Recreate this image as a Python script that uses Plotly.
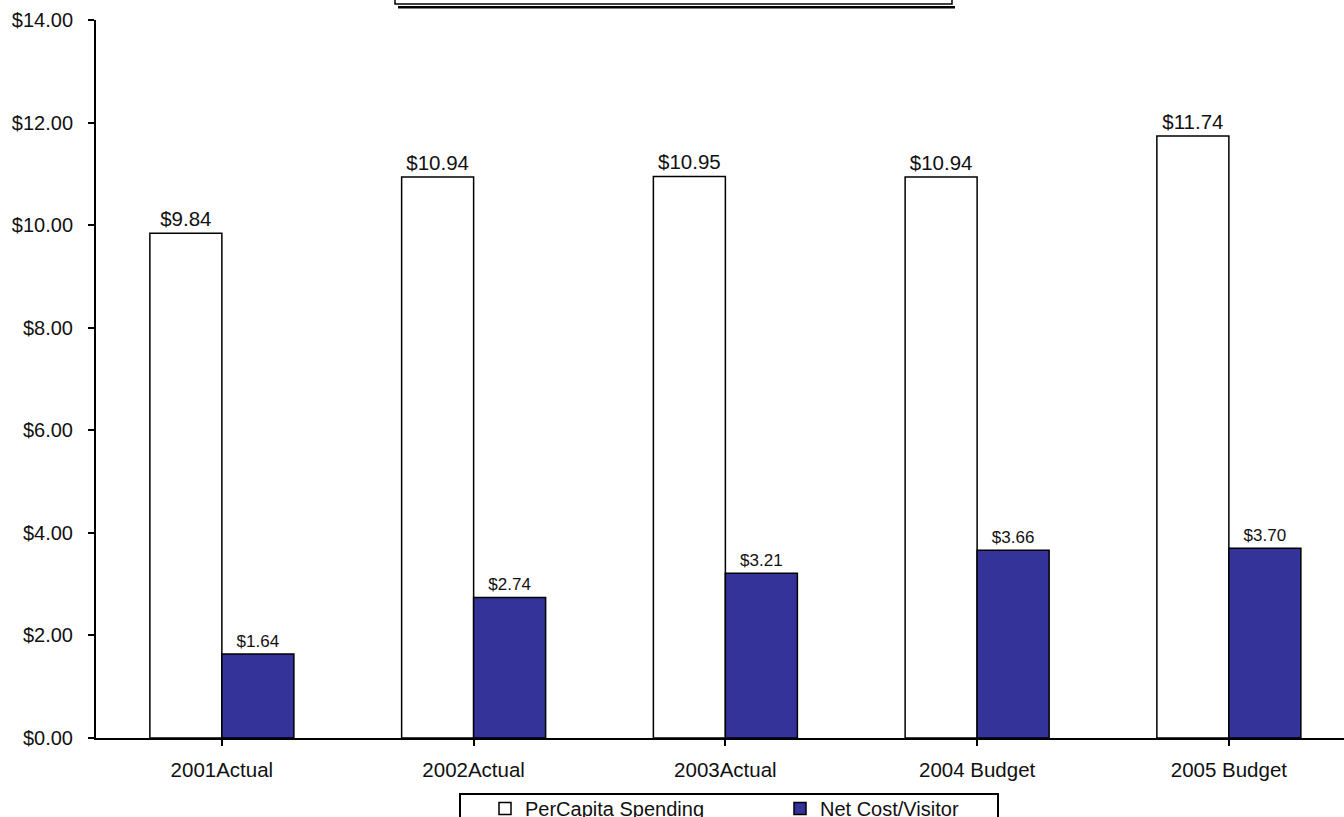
import plotly.graph_objects as go

categories = ["2001Actual", "2002Actual", "2003Actual", "2004 Budget", "2005 Budget"]
per_capita = [9.84, 10.94, 10.95, 10.94, 11.74]
net_cost = [1.64, 2.74, 3.21, 3.66, 3.70]
y_ticks = [0, 2, 4, 6, 8, 10, 12, 14]

W, H = 1344, 817
L, R, T, B = 96, 0, 20, 79
PW, PH = W - L - R, H - T - B
CAT_PX = 251.75

def px(xs):
    return (xs - L) / PW

def py(ys):
    return (H - B - ys) / PH

FONT = "Liberation Sans, Arial, sans-serif"

fig = go.Figure()
fig.add_trace(go.Bar(
    name="PerCapita Spending", x=list(range(len(categories))), y=per_capita,
    marker=dict(color="white", line=dict(color="black", width=1.5)),
    text=[f"${v:.2f}" for v in per_capita], textposition="outside",
    textfont=dict(size=20.5, color="#111", family=FONT), cliponaxis=False,
))
fig.add_trace(go.Bar(
    name="Net Cost/Visitor", x=list(range(len(categories))), y=net_cost,
    marker=dict(color="#333399", line=dict(color="black", width=1.5)),
    text=[f"${v:.2f}" for v in net_cost], textposition="outside",
    textfont=dict(size=17, color="#111", family=FONT), cliponaxis=False,
))

fig.update_layout(
    width=W, height=H,
    margin=dict(l=L, r=R, t=T, b=B, autoexpand=False),
    paper_bgcolor="white", plot_bgcolor="white",
    barmode="group", bargap=1 - 144 / CAT_PX, bargroupgap=0,
    font=dict(family=FONT, size=20, color="#111"),
    showlegend=True,
    legend=dict(orientation="h", x=px(485), xanchor="left", y=py(789), yanchor="top",
                bgcolor="rgba(0,0,0,0)", borderwidth=0, entrywidth=250,
                font=dict(size=20, family=FONT, color="#111")),
    xaxis=dict(
        range=[-0.5, -0.5 + PW / CAT_PX],
        tickmode="array", tickvals=list(range(len(categories))), ticktext=categories,
        tickson="boundaries", ticks="outside", ticklen=6, tickwidth=2, tickcolor="black",
        showline=True, linecolor="black", linewidth=2, showgrid=False, zeroline=False,
        ticklabelstandoff=6, tickfont=dict(size=20.5),
    ),
    yaxis=dict(
        range=[0, 14], tickmode="array", tickvals=y_ticks,
        ticktext=[f"${v:.2f}" for v in y_ticks],
        ticks="outside", ticklen=6, tickwidth=2, tickcolor="black",
        showline=True, linecolor="black", linewidth=2, showgrid=False, zeroline=False,
        ticklabelstandoff=11,
    ),
    shapes=[
        # top (cut-off) box and its shadow
        dict(type="rect", xref="paper", yref="paper", x0=px(395), x1=px(952),
             y0=py(4), y1=py(-20), line=dict(color="black", width=1.5)),
        dict(type="line", xref="paper", yref="paper", x0=px(398), x1=px(955),
             y0=py(7.2), y1=py(7.2), line=dict(color="black", width=2.5)),
        # legend frame
        dict(type="rect", xref="paper", yref="paper", x0=px(460), x1=px(998),
             y0=py(794), y1=py(840), line=dict(color="black", width=2)),
    ],
)

fig.write_html("out.html", config={"displayModeBar": False},
               post_script="document.body.style.margin='0';document.body.style.overflow='hidden';")
